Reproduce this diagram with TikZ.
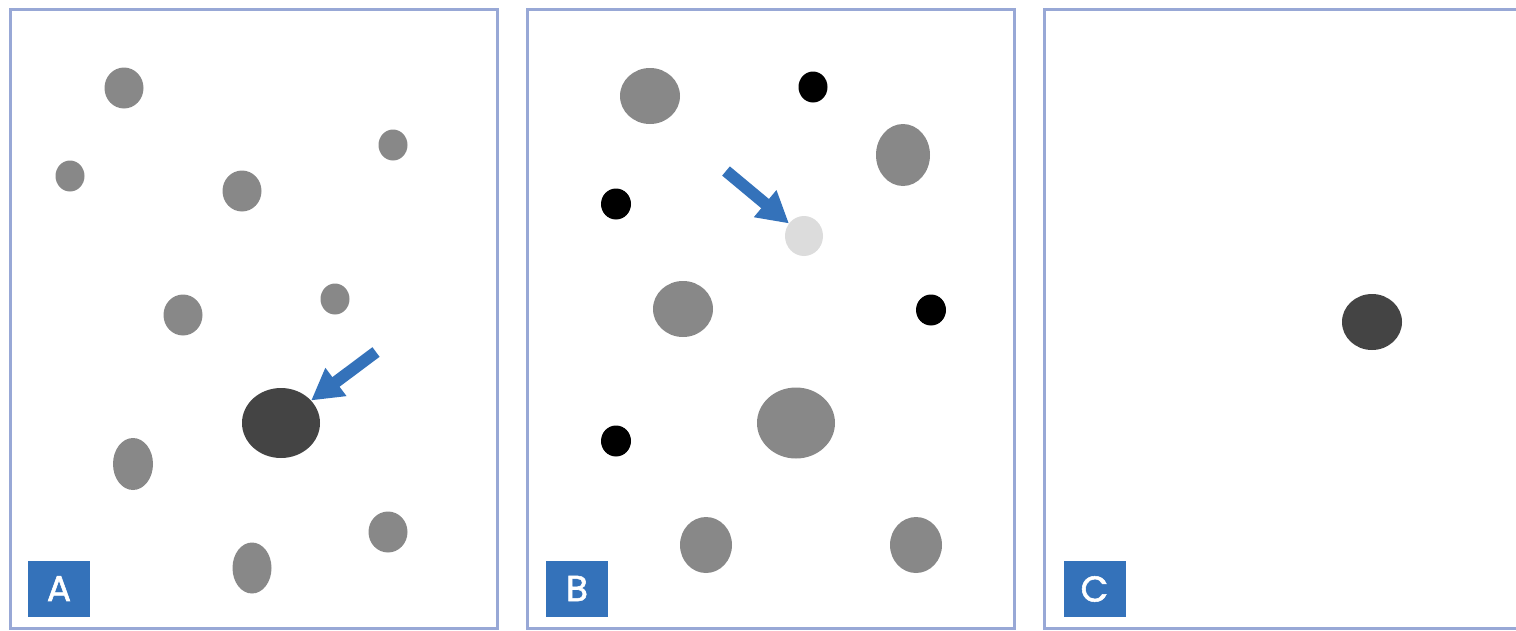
\documentclass[tikz,border=0pt]{standalone}
\usepackage{fontspec}
\newfontfamily\tagfont[BoldFont=Poppins, BoldFeatures={FakeBold=1.5}]{Poppins}
\usepackage{tikz}
\usetikzlibrary{arrows.meta,shapes.geometric,positioning}
\definecolor{framecol}{RGB}{152,168,214}
\definecolor{tagblue}{RGB}{52,114,186}
\definecolor{spotgray}{RGB}{136,136,136}
\definecolor{spotdark}{RGB}{68,68,68}
\definecolor{spotlight}{RGB}{220,220,220}
\tikzstyle{panel} = [rectangle, draw=framecol, line width=3pt, minimum width=487pt, minimum height=619pt, inner sep=0pt]
\tikzstyle{tag} = [rectangle, fill=tagblue, text=white, minimum width=62pt, minimum height=56pt, inner sep=0pt, font=\tagfont\bfseries\fontsize{36}{36}\selectfont]
\tikzstyle{spot} = [ellipse, inner sep=0pt, fill=spotgray]
\tikzstyle{pointer} = [draw=tagblue, line width=12pt, -{Triangle[length=31pt,width=33pt]}]

\begin{document}
\begin{tikzpicture}[x=1pt, y=-1pt]
        \useasboundingbox (0,0) rectangle (1516,630);

        \node[panel] (pa) at (253.5,318.5) {};
        \node[panel, right of=pa, node distance=517pt] (pb) {};
        \node[panel, right of=pb, node distance=517pt] (pc) {};

        \node[tag] (ta) at (59,588.5) {A};
        \node[tag] (tb) at (577,588.5) {B};
        \node[tag] (tc) at (1094.5,589) {C};

        % panel A
        \node[spot, minimum width=39pt, minimum height=41pt] (a1) at (124,88) {};
        \node[spot, minimum width=29pt, minimum height=31pt] (a2) at (70,176) {};
        \node[spot, minimum width=29pt, minimum height=31pt] (a3) at (393,145) {};
        \node[spot, minimum width=39pt, minimum height=41pt] (a4) at (242,191) {};
        \node[spot, minimum width=39pt, minimum height=41pt] (a5) at (183,315) {};
        \node[spot, minimum width=29pt, minimum height=31pt] (a6) at (335,299) {};
        \node[spot, fill=spotdark, minimum width=78pt, minimum height=70pt] (a7) at (281,423) {};
        \node[spot, minimum width=40pt, minimum height=52pt] (a8) at (133,464) {};
        \node[spot, minimum width=39pt, minimum height=41pt] (a9) at (388,532) {};
        \node[spot, minimum width=39pt, minimum height=51pt] (a10) at (252,568) {};

        % panel B
        \node[spot, minimum width=60pt, minimum height=56pt] (b1) at (650,96) {};
        \node[spot, fill=black, minimum width=29pt, minimum height=31pt] (b2) at (813,87) {};
        \node[spot, minimum width=54pt, minimum height=62pt] (b3) at (903,155) {};
        \node[spot, fill=black, minimum width=30pt, minimum height=31pt] (b4) at (616,204) {};
        \node[spot, fill=spotlight, minimum width=38pt, minimum height=40pt] (b5) at (804,236) {};
        \node[spot, minimum width=60pt, minimum height=56pt] (b6) at (683,309) {};
        \node[spot, fill=black, minimum width=30pt, minimum height=31pt] (b7) at (931,310) {};
        \node[spot, minimum width=78pt, minimum height=71pt] (b8) at (796,423) {};
        \node[spot, fill=black, minimum width=30pt, minimum height=31pt] (b9) at (616,441) {};
        \node[spot, minimum width=52pt, minimum height=56pt] (b10) at (706,545) {};
        \node[spot, minimum width=52pt, minimum height=56pt] (b11) at (916,545) {};

        % panel C
        \node[spot, fill=spotdark, minimum width=60pt, minimum height=56pt] (c1) at (1372,322) {};

        \coordinate (ha) at (376,352);
        \coordinate (hb) at (726,171);
        \draw[pointer] (ha) -- (a7);
        \draw[pointer] (hb) -- (b5);
    \end{tikzpicture}
\end{document}
